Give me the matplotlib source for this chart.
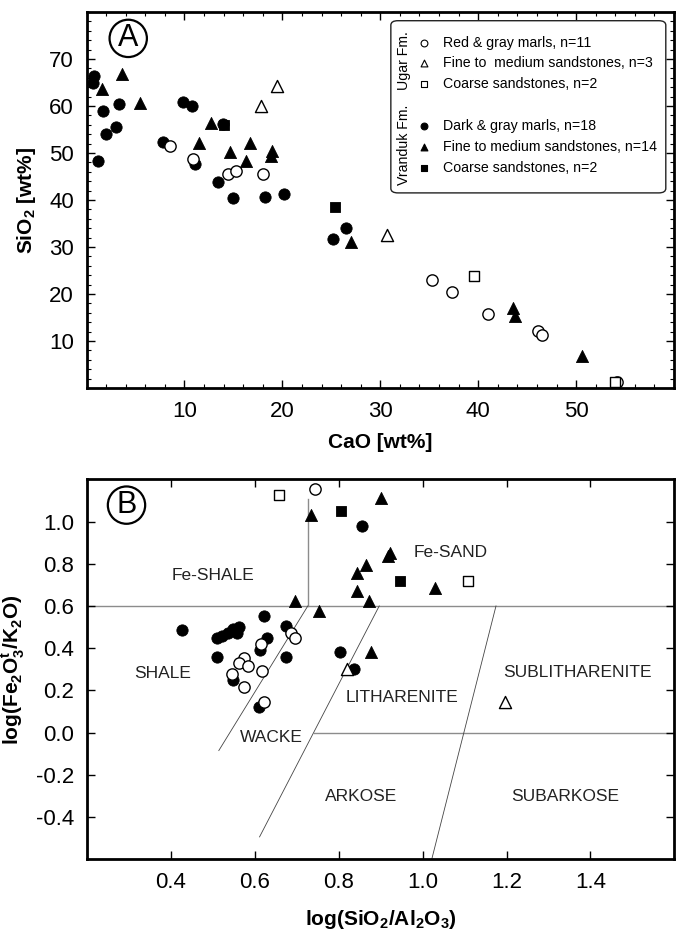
import matplotlib
matplotlib.use("Agg")
import matplotlib.pyplot as plt
from matplotlib.patches import FancyBboxPatch
from matplotlib.ticker import MultipleLocator

plt.rcParams['font.family'] = ['Liberation Sans', 'DejaVu Sans']
plt.rcParams['mathtext.fontset'] = 'custom'
plt.rcParams['mathtext.rm'] = 'Liberation Sans'
plt.rcParams['mathtext.bf'] = 'Liberation Sans:bold'

NARROW = ['Liberation Sans Narrow', 'Liberation Sans', 'DejaVu Sans']

# ---- Panel A: CaO vs SiO2 ----
# Ugar Fm.
ug_marl_cao = [8.5, 10.9, 14.5, 15.3, 18.0, 35.3, 37.3, 41.0, 46.1, 46.5, 54.2]
ug_marl_si = [51.4, 48.7, 45.5, 46.2, 45.5, 22.9, 20.4, 15.7, 12.1, 11.2, 1.3]
ug_fine_cao = [17.8, 19.5, 30.7]
ug_fine_si = [60.0, 64.2, 32.5]
ug_coarse_cao = [39.6, 54.0]
ug_coarse_si = [23.8, 1.3]
# Vranduk Fm.
vr_marl_cao = [0.8, 0.7, 1.2, 1.7, 2.0, 3.0, 3.3, 7.8, 9.9, 10.8, 11.1, 13.4,
               15.0, 18.2, 20.2, 25.2, 26.5, 13.9]
vr_marl_si = [66.3, 64.9, 48.4, 59.0, 54.1, 55.6, 60.5, 52.4, 60.8, 60.0, 47.7,
              43.9, 40.4, 40.7, 41.3, 31.7, 34.0, 56.2]
vr_fine_cao = [3.6, 1.6, 5.5, 12.7, 11.5, 14.7, 16.7, 16.3, 18.9, 18.8, 27.0,
               43.6, 43.8, 50.6]
vr_fine_si = [66.9, 63.7, 60.7, 56.3, 52.2, 50.2, 52.2, 48.4, 50.5, 49.4, 31.1,
              17.1, 15.3, 6.9]
vr_coarse_cao = [14.0, 25.4]
vr_coarse_si = [55.9, 38.6]

# ---- Panel B: log(SiO2/Al2O3) vs log(Fe2O3t/K2O) ----
b_ug_marl_x = [0.743, 0.576, 0.564, 0.584, 0.547, 0.618, 0.616, 0.687, 0.697,
               0.574, 0.623]
b_ug_marl_y = [1.152, 0.352, 0.331, 0.316, 0.279, 0.292, 0.422, 0.474, 0.450,
               0.216, 0.146]
b_ug_fine_x = [0.820, 1.196]
b_ug_fine_y = [0.300, 0.146]
b_ug_coarse_x = [0.658, 1.109]
b_ug_coarse_y = [1.125, 0.716]
b_vr_marl_x = [0.428, 0.510, 0.523, 0.537, 0.548, 0.563, 0.558, 0.622, 0.629,
               0.675, 0.510, 0.675, 0.612, 0.548, 0.804, 0.610, 0.838, 0.856]
b_vr_marl_y = [0.486, 0.450, 0.459, 0.470, 0.490, 0.501, 0.474, 0.550, 0.450,
               0.506, 0.358, 0.360, 0.390, 0.248, 0.384, 0.120, 0.300, 0.979]
b_vr_fine_x = [0.735, 0.697, 0.754, 0.877, 0.901, 0.923, 0.917, 0.865, 0.845,
               0.843, 0.872, 1.030]
b_vr_fine_y = [1.030, 0.622, 0.574, 0.380, 1.110, 0.852, 0.835, 0.792, 0.755,
               0.670, 0.622, 0.684]
b_vr_coarse_x = [0.805, 0.946]
b_vr_coarse_y = [1.050, 0.716]

# classification field boundaries
bound_h1_x, bound_h1_y = [0.2, 1.6], [0.6, 0.6]
bound_v_x, bound_v_y = [0.727, 0.727], [0.6, 1.105]
bound_h0_x, bound_h0_y = [0.742, 1.6], [0.0, 0.0]
bound_l1_x, bound_l1_y = [0.515, 0.727], [-0.085, 0.6]
bound_l2_x, bound_l2_y = [0.612, 0.897], [-0.494, 0.6]
bound_l3_x, bound_l3_y = [1.022, 1.175], [-0.6, 0.6]

field_names = ['Fe-SHALE', 'Fe-SAND', 'SHALE', 'WACKE', 'LITHARENITE',
               'SUBLITHARENITE', 'ARKOSE', 'SUBARKOSE']
field_x = [0.50, 1.067, 0.382, 0.641, 0.952, 1.37, 0.853, 1.34]
field_y = [0.744, 0.855, 0.279, -0.022, 0.168, 0.284, -0.303, -0.303]

legend_labels = ['Red & gray marls, n=11', 'Fine to  medium sandstones, n=3',
                 'Coarse sandstones, n=2', 'Dark & gray marls, n=18',
                 'Fine to medium sandstones, n=14', 'Coarse sandstones, n=2']

fig = plt.figure(figsize=(6.77, 9.35), dpi=100)
axA = fig.add_axes([0.1278, 0.585, 0.8678, 0.4021])
axB = fig.add_axes([0.1278, 0.081, 0.8685, 0.4064])

ms_c, ms_t, ms_s = 66, 76, 60
lw_open = 1.0


def draw_groups(ax, groups):
    for x, y, mk, s, filled in groups:
        if filled:
            ax.scatter(x, y, marker=mk, s=s, c='black', edgecolors='black',
                       linewidths=0.6, zorder=3)
        else:
            ax.scatter(x, y, marker=mk, s=s, c='white', edgecolors='black',
                       linewidths=lw_open, zorder=4)


draw_groups(axA, [
    (vr_marl_cao, vr_marl_si, 'o', ms_c, True),
    (vr_fine_cao, vr_fine_si, '^', ms_t, True),
    (vr_coarse_cao, vr_coarse_si, 's', ms_s, True),
    (ug_marl_cao, ug_marl_si, 'o', ms_c, False),
    (ug_fine_cao, ug_fine_si, '^', ms_t, False),
    (ug_coarse_cao, ug_coarse_si, 's', ms_s, False),
])

draw_groups(axB, [
    (b_vr_marl_x, b_vr_marl_y, 'o', ms_c, True),
    (b_vr_fine_x, b_vr_fine_y, '^', ms_t, True),
    (b_vr_coarse_x, b_vr_coarse_y, 's', ms_s, True),
    (b_ug_marl_x, b_ug_marl_y, 'o', ms_c, False),
    (b_ug_fine_x, b_ug_fine_y, '^', ms_t, False),
    (b_ug_coarse_x, b_ug_coarse_y, 's', ms_s, False),
])

# axes styling
for ax in (axA, axB):
    for sp in ax.spines.values():
        sp.set_linewidth(2.0)
    ax.tick_params(which='both', direction='in', top=True, right=True)
    ax.tick_params(which='major', length=6, width=1.0, labelsize=16, pad=9)
    ax.tick_params(which='minor', length=3, width=0.8)

axA.set_xlim(0, 60)
axA.set_ylim(0, 80)
axA.set_xticks([10, 20, 30, 40, 50])
axA.set_yticks([10, 20, 30, 40, 50, 60, 70])
axA.xaxis.set_minor_locator(MultipleLocator(2))
axA.yaxis.set_minor_locator(MultipleLocator(2))
axA.set_xticklabels(['10', '20', '30', '40', '50'], family=NARROW)
axA.set_yticklabels(['10', '20', '30', '40', '50', '60', '70'], family=NARROW)
axA.set_xlabel('CaO [wt%]', fontsize=15, fontweight='bold', labelpad=8)
axA.set_ylabel('SiO$_\\mathbf{2}$ [wt%]', fontsize=15, fontweight='bold', labelpad=8)

axB.set_xlim(0.2, 1.6)
axB.set_ylim(-0.6, 1.2)
axB.set_xticks([0.4, 0.6, 0.8, 1.0, 1.2, 1.4])
axB.set_yticks([-0.4, -0.2, 0.0, 0.2, 0.4, 0.6, 0.8, 1.0])
axB.set_xticklabels(['0.4', '0.6', '0.8', '1.0', '1.2', '1.4'], family=NARROW)
axB.set_yticklabels(['-0.4', '-0.2', '0.0', '0.2', '0.4', '0.6', '0.8', '1.0'],
                    family=NARROW)
axB.set_xlabel('log(SiO$_\\mathbf{2}$/Al$_\\mathbf{2}$O$_\\mathbf{3}$)',
               fontsize=15, fontweight='bold', labelpad=11)
axB.set_ylabel('log(Fe$_\\mathbf{2}$O$^\\mathbf{t}_\\mathbf{3}$/K$_\\mathbf{2}$O)',
               fontsize=15, fontweight='bold', labelpad=6)

# field boundaries
axB.plot(bound_h1_x, bound_h1_y, color='#8c8c8c', lw=1.0, zorder=1)
axB.plot(bound_v_x, bound_v_y, color='#8c8c8c', lw=1.0, zorder=1)
axB.plot(bound_h0_x, bound_h0_y, color='#8c8c8c', lw=1.0, zorder=1)
for bx, by in [(bound_l1_x, bound_l1_y), (bound_l2_x, bound_l2_y),
               (bound_l3_x, bound_l3_y)]:
    axB.plot(bx, by, color='#444444', lw=0.6, zorder=1)
for name, fx, fy in zip(field_names, field_x, field_y):
    axB.text(fx, fy, name, fontsize=12.5, ha='center', va='center',
             color='#222222', zorder=2)

# panel letters
for ax, letter, pos in [(axA, 'A', (0.071, 0.930)), (axB, 'B', (0.068, 0.932))]:
    ax.text(pos[0], pos[1], letter, transform=ax.transAxes, fontsize=22,
            ha='center', va='center',
            bbox=dict(boxstyle='circle,pad=0.12', fc='white', ec='black', lw=1.6))

# legend drawn by hand
box = FancyBboxPatch((0.518, 0.519), 0.468, 0.458, transform=axA.transAxes,
                     boxstyle='round,pad=0,rounding_size=0.012', fc='white',
                     ec='#222222', lw=1.0, zorder=5)
axA.add_patch(box)
leg_y = [0.919, 0.864, 0.809, 0.697, 0.642, 0.586]
leg_mk = ['o', '^', 's', 'o', '^', 's']
leg_fill = [False, False, False, True, True, True]
for lab, ly, mk, filled in zip(legend_labels, leg_y, leg_mk, leg_fill):
    axA.scatter([0.574], [ly], marker=mk, s=24,
                c='black' if filled else 'white', edgecolors='black',
                linewidths=0.8, transform=axA.transAxes, zorder=6)
    axA.text(0.606, ly, lab, transform=axA.transAxes, fontsize=10.2,
             va='center', ha='left', zorder=6)
axA.text(0.541, 0.872, 'Ugar Fm.', transform=axA.transAxes, fontsize=10.2,
         rotation=90, ha='center', va='center', zorder=6)
axA.text(0.541, 0.646, 'Vranduk Fm.', transform=axA.transAxes, fontsize=10.2,
         rotation=90, ha='center', va='center', zorder=6)

fig.savefig('out.png', dpi=100)
